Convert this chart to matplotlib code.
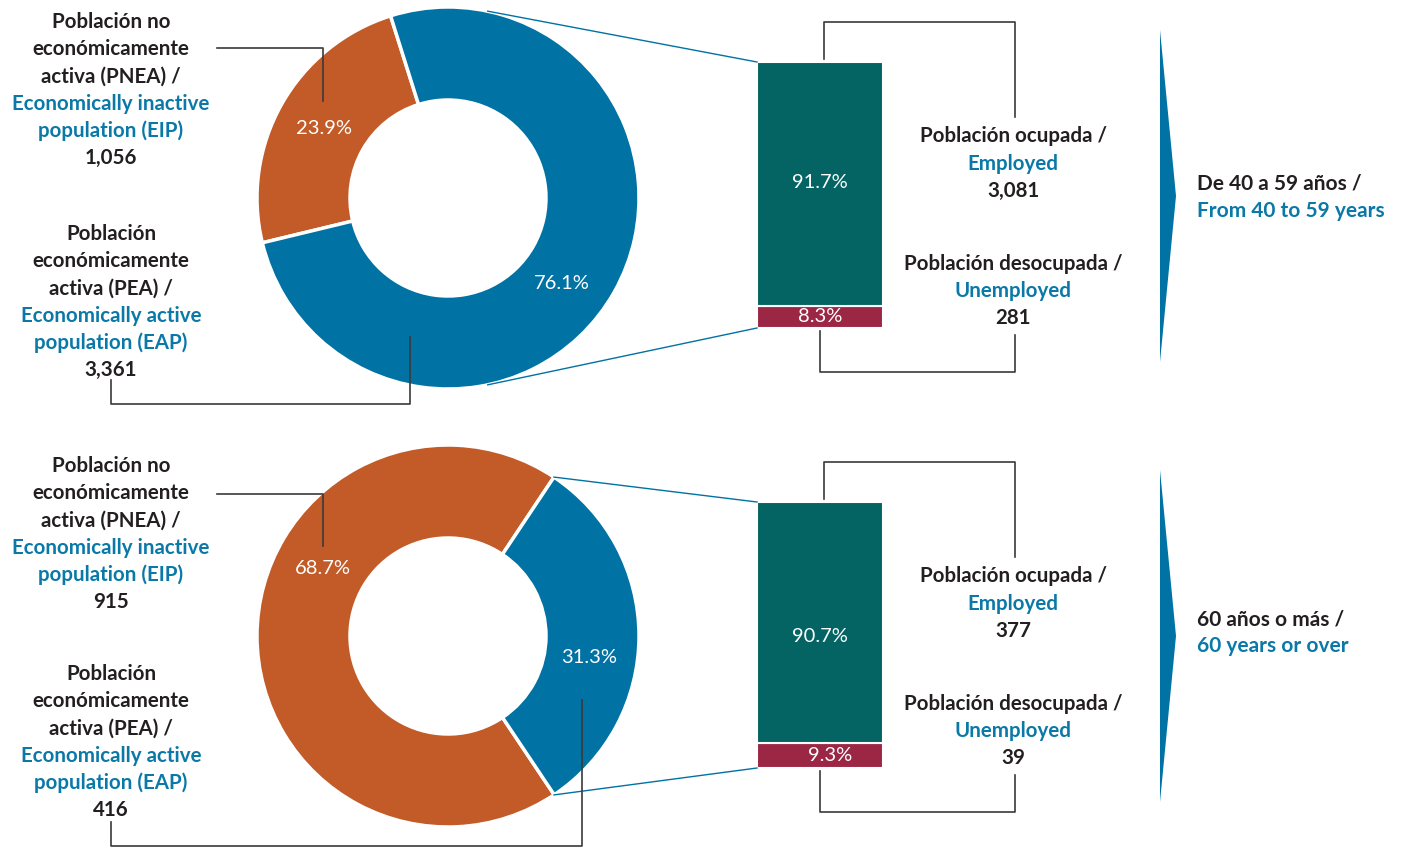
import numpy as np
import matplotlib.pyplot as plt
from matplotlib.patches import Polygon

W, H = 1406, 848

# population counts and shares per age group
pnea = [1056, 915]
pea = [3361, 416]
pnea_pct = [23.9, 68.7]
pea_pct = [76.1, 31.3]
ocupada = [3081, 377]
desocupada = [281, 39]
ocupada_pct = [91.7, 90.7]
desocupada_pct = [8.3, 9.3]
age_es = ['De 40 a 59 años /', '60 años o más /']
age_en = ['From 40 to 59 years', '60 years or over']

BLUE = '#0072a3'
ORANGE = '#c25b28'
TEAL = '#046363'
MAROON = '#9b2745'
DARK = '#231f20'
TXT_BLUE = '#0a79a8'
LINE = '#3a3a3a'
FONT = 'Lato'
FS = 14.8

# layout (pixels from top)
panel_dy = [0, 440]
donut_cy = [198, 636]
start_ang = [107.5, 56.3]
lbl_ang = [(150.7, -36.9), (151.5, -8.5)]
zoom_ang = [78, 56.3]
left_top = [(21, 233), (465, 673)]
eap_leader_x = [410, 582]
eap_leader_y = [(380, 404, 337), (822, 846, 700)]
pnea_leader = [(48, 101), (494, 546)]
ocu_lbl_y = [183, 636]
des_lbl_dx = [0, 10]
age_mid = [196, 631]
CX, R, RING = 448, 191, 93
BAR_X, BAR_W, BAR_H = 820, 126, 266


def p(y):
    return H - y


fig = plt.figure(figsize=(W / 100, H / 100), dpi=100)
ax = fig.add_axes([0, 0, 1, 1])


def txt(x, y, s, color=DARK, size=FS, weight='bold', ha='center'):
    # y is the visual centre of the capitals; baseline sits a bit lower
    ax.text(x, p(y + 7), s, color=color, fontsize=size, fontweight=weight,
            ha=ha, va='baseline', family=[FONT, 'DejaVu Sans'])


def pct(x, y, s):
    ax.text(x, y, s, color='white', fontsize=14.5, ha='center', va='center',
            family=[FONT, 'DejaVu Sans'])


for i in range(2):
    dy = panel_dy[i]
    cy = donut_cy[i]

    # donut
    ax.pie([pnea[i], pea[i]], colors=[ORANGE, BLUE], startangle=start_ang[i],
           counterclock=True, radius=R, center=(CX, p(cy)),
           wedgeprops=dict(width=RING, edgecolor='white', linewidth=2.5))
    rr = R - RING / 2 - 2
    for ang, val in zip(lbl_ang[i], [pnea_pct[i], pea_pct[i]]):
        a = np.deg2rad(ang)
        pct(CX + rr * np.cos(a), p(cy) + rr * np.sin(a), f'{val}%')

    # stacked bar for the active population
    scale = BAR_H / 100
    bar_top = 62 + dy
    bar_bot = bar_top + BAR_H
    h_des = desocupada_pct[i] * scale
    h_ocu = ocupada_pct[i] * scale
    ax.bar(BAR_X, h_des, bottom=p(bar_bot), width=BAR_W, color=MAROON,
           edgecolor='white', linewidth=1.5)
    ax.bar(BAR_X, h_ocu, bottom=p(bar_bot) + h_des, width=BAR_W, color=TEAL,
           edgecolor='white', linewidth=1.5)
    pct(BAR_X, p(ocu_lbl_y[i]), f'{ocupada_pct[i]}%')
    pct(BAR_X + des_lbl_dx[i], p(bar_bot) + h_des / 2, f'{desocupada_pct[i]}%')

    # zoom lines from donut to bar
    za = np.deg2rad(zoom_ang[i])
    x0 = CX + R * np.cos(za)
    ax.plot([x0, BAR_X - BAR_W / 2], [p(cy) + R * np.sin(za), p(bar_top)],
            color=BLUE, lw=1)
    ax.plot([x0, BAR_X - BAR_W / 2], [p(cy) - R * np.sin(za), p(bar_bot)],
            color=BLUE, lw=1)

    # brackets to the bar labels
    ax.plot([824, 824, 1015, 1015], [p(bar_top - 3), p(22 + dy), p(22 + dy), p(117 + dy)],
            color=LINE, lw=1.2)
    ax.plot([820, 820, 1015, 1015], [p(bar_bot + 3), p(372 + dy), p(372 + dy), p(335 + dy)],
            color=LINE, lw=1.2)

    txt(1013, 135 + dy, 'Población ocupada /')
    txt(1013, 163 + dy, 'Employed', color=TXT_BLUE)
    txt(1013, 190 + dy, f'{ocupada[i]:,}')
    txt(1013, 263 + dy, 'Población desocupada /')
    txt(1013, 290 + dy, 'Unemployed', color=TXT_BLUE)
    txt(1013, 317 + dy, f'{desocupada[i]:,}')

    # age group marker
    tip = 196 + dy
    ax.add_patch(Polygon([(1160, p(tip - 166)), (1176, p(tip)), (1160, p(tip + 166))],
                         closed=True, color=BLUE, lw=0))
    txt(1197, age_mid[i] - 13, age_es[i], ha='left', size=15)
    txt(1197, age_mid[i] + 14, age_en[i], color=TXT_BLUE, ha='left', size=15)

    # left labels
    step = 27.2
    y1, y2 = left_top[i]
    block1 = [('Población no', DARK), ('económicamente', DARK),
              ('activa (PNEA) /', DARK), ('Economically inactive', TXT_BLUE),
              ('population (EIP)', TXT_BLUE), (f'{pnea[i]:,}', DARK)]
    block2 = [('Población', DARK), ('económicamente', DARK),
              ('activa (PEA) /', DARK), ('Economically active', TXT_BLUE),
              ('population (EAP)', TXT_BLUE), (f'{pea[i]:,}', DARK)]
    for k, (s, c) in enumerate(block1):
        txt(111, y1 + k * step, s, color=c)
    for k, (s, c) in enumerate(block2):
        txt(111, y2 + k * step, s, color=c)

    # leaders from labels into the donut
    ly, lend = pnea_leader[i]
    ax.plot([217, 323, 323], [p(ly), p(ly), p(lend)], color=LINE, lw=1.2)
    ya, yb, yc = eap_leader_y[i]
    ax.plot([111, 111, eap_leader_x[i], eap_leader_x[i]],
            [p(ya), p(yb), p(yb), p(yc)], color=LINE, lw=1.2)

ax.set_xlim(0, W)
ax.set_ylim(0, H)
ax.set_aspect('auto')
ax.axis('off')

fig.savefig('out.png', dpi=100, facecolor='white')
